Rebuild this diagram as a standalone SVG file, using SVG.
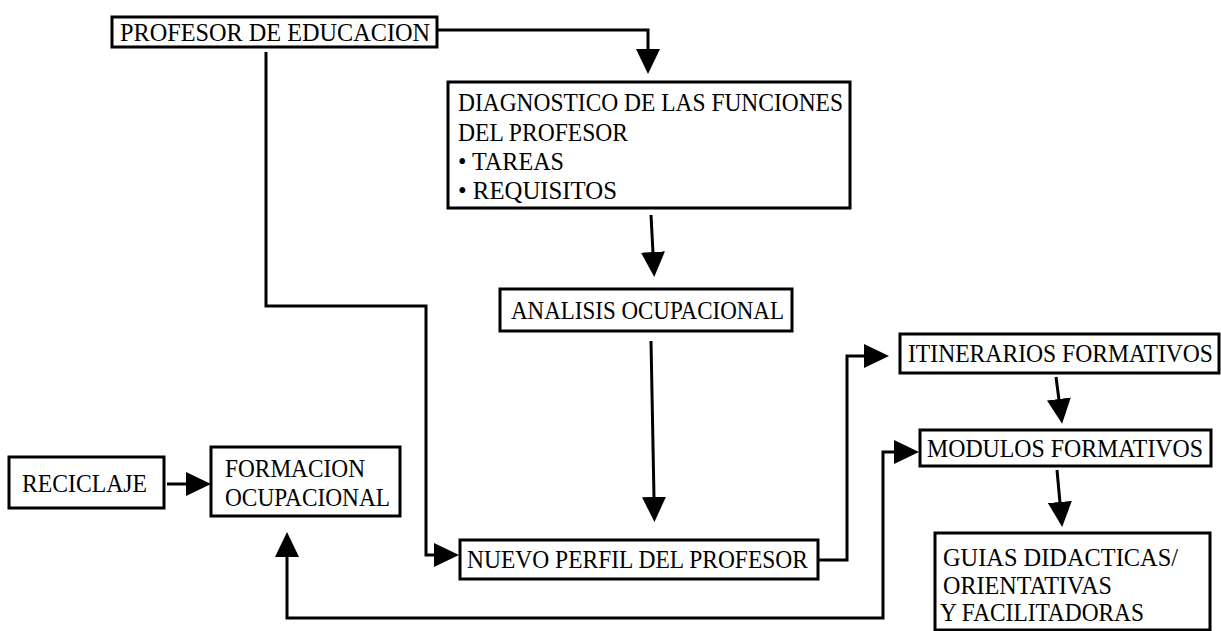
<svg xmlns="http://www.w3.org/2000/svg" width="1221" height="631" viewBox="0 0 1221 631">
<style>
.box{fill:#fff;stroke:#000;stroke-width:3}
.t{font-family:"Liberation Serif","Times New Roman",serif;font-size:24.3px;fill:#000}
.c{fill:none;stroke:#000;stroke-width:3}
</style>
<defs>
<marker id="ah" markerUnits="userSpaceOnUse" markerWidth="26" markerHeight="24" viewBox="0 0 26 24" refX="1" refY="12" orient="auto-start-reverse">
<path d="M0,0 L25,12 L0,24 z" fill="#000"/>
</marker>
</defs>
<rect width="1221" height="631" fill="#fff"/>
<g id="connectors">
<path class="c" d="M437,30 H648 V50" marker-end="url(#ah)"/>
<path class="c" d="M651,215 L653,253" marker-end="url(#ah)"/>
<path class="c" d="M651,341 L654,498" marker-end="url(#ah)"/>
<path class="c" d="M266,52 V306 H426 V555 H435" marker-end="url(#ah)"/>
<path class="c" d="M818,560 H847 V356 H865" marker-end="url(#ah)"/>
<path class="c" d="M1056,377 L1059,400" marker-end="url(#ah)"/>
<path class="c" d="M1057,470 L1060,503" marker-end="url(#ah)"/>
<path class="c" d="M167,484 H187" marker-end="url(#ah)"/>
<path class="c" d="M287,556 V618 H883 V452 H895" marker-start="url(#ah)" marker-end="url(#ah)"/>
</g>
<g id="n-profesor">
<rect class="box" x="112" y="17" width="325" height="30"/>
<text class="t" x="120" y="41" textLength="310" lengthAdjust="spacingAndGlyphs">PROFESOR DE EDUCACION</text>
</g>
<g id="n-diagnostico">
<rect class="box" x="448" y="82" width="402" height="126"/>
<text class="t" x="458" y="111" textLength="385" lengthAdjust="spacingAndGlyphs">DIAGNOSTICO DE LAS FUNCIONES</text>
<text class="t" x="458" y="141" textLength="170" lengthAdjust="spacingAndGlyphs">DEL PROFESOR</text>
<text class="t" x="458" y="170" textLength="106" lengthAdjust="spacingAndGlyphs">• TAREAS</text>
<text class="t" x="458" y="199" textLength="159" lengthAdjust="spacingAndGlyphs">• REQUISITOS</text>
</g>
<g id="n-analisis">
<rect class="box" x="500" y="289" width="292" height="42"/>
<text class="t" x="511" y="319" textLength="273" lengthAdjust="spacingAndGlyphs">ANALISIS OCUPACIONAL</text>
</g>
<g id="n-nuevo">
<rect class="box" x="460" y="540" width="358" height="39"/>
<text class="t" x="467" y="568" textLength="341" lengthAdjust="spacingAndGlyphs">NUEVO PERFIL DEL PROFESOR</text>
</g>
<g id="n-itinerarios">
<rect class="box" x="900" y="334" width="319" height="39"/>
<text class="t" x="908" y="362" textLength="305" lengthAdjust="spacingAndGlyphs">ITINERARIOS FORMATIVOS</text>
</g>
<g id="n-modulos">
<rect class="box" x="920" y="430" width="291" height="36"/>
<text class="t" x="927" y="457" textLength="276" lengthAdjust="spacingAndGlyphs">MODULOS FORMATIVOS</text>
</g>
<g id="n-guias">
<rect class="box" x="935" y="533" width="275" height="97"/>
<text class="t" x="943" y="566" textLength="235" lengthAdjust="spacingAndGlyphs">GUIAS DIDACTICAS/</text>
<text class="t" x="943" y="594" textLength="169" lengthAdjust="spacingAndGlyphs">ORIENTATIVAS</text>
<text class="t" x="940" y="621" textLength="204" lengthAdjust="spacingAndGlyphs">Y FACILITADORAS</text>
</g>
<g id="n-reciclaje">
<rect class="box" x="9" y="457" width="155" height="51"/>
<text class="t" x="22" y="492" textLength="125" lengthAdjust="spacingAndGlyphs">RECICLAJE</text>
</g>
<g id="n-formacion">
<rect class="box" x="211" y="447" width="189" height="69"/>
<text class="t" x="225" y="477" textLength="140" lengthAdjust="spacingAndGlyphs">FORMACION</text>
<text class="t" x="225" y="506" textLength="165" lengthAdjust="spacingAndGlyphs">OCUPACIONAL</text>
</g>
</svg>
